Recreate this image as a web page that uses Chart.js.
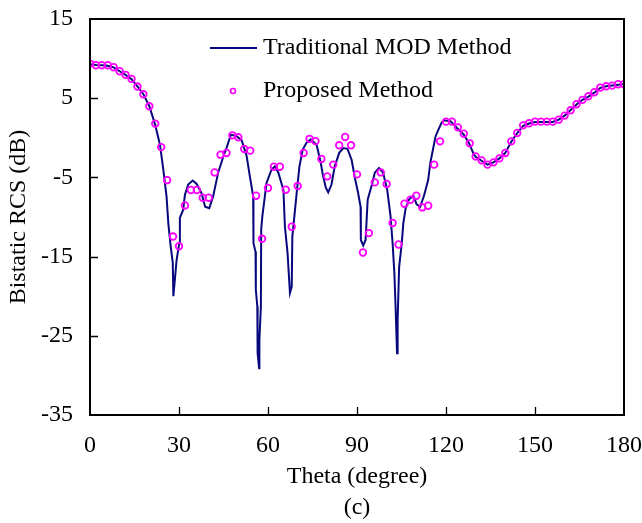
<!DOCTYPE html>
<html>
<head>
<meta charset="utf-8">
<title>Bistatic RCS</title>
<script src="https://cdn.jsdelivr.net/npm/chart.js@4.4.1/dist/chart.umd.min.js"></script>
<style>
  html, body { margin: 0; padding: 0; background: #fff; }
  #wrap { width: 642px; height: 523px; }
  canvas { display: block; }
</style>
</head>
<body>
<div id="wrap"><canvas id="rcsChart" width="642" height="523"></canvas></div>
<script>
// traditional MOD method (solid line)
const lineTheta = [0, 2, 4, 6, 8, 10, 12, 14, 16, 18, 20, 22, 23.6, 24.7, 25.8, 26.4, 27.2, 27.9, 28.1, 28.6,
  29.2, 30.1, 30.3, 31.4, 32.0, 33.1, 34.6, 35.9, 37.6, 38.8, 40.2, 41.5, 43.2, 45.0, 46.0, 47.5, 49.4, 51.1,
  52.8, 53.9, 55.0, 55.1, 55.8, 55.9, 56.4, 56.5, 57.0, 57.1, 57.6, 57.7, 58.1, 58.8, 59.5, 61.2, 62.3, 63.5,
  65.2, 65.7, 66.6, 67.4, 68.0, 68.2, 69.1, 69.9, 70.6, 71.7, 73.0, 74.4, 76.4, 77.7, 78.6, 79.5, 80.3, 81.4,
  82.5, 84.0, 85.4, 86.8, 88.2, 89.3, 90.4, 91.2, 91.3, 92.1, 92.9, 93.6, 94.9, 96.0, 97.4, 98.8, 100.2, 101.3,
  102.0, 102.6, 103.0, 103.5, 103.7, 104.2, 105.1, 105.6, 106.4, 107.5, 109.0, 110.1, 111.3, 112.5, 113.1,
  114.0, 114.7, 115.8, 116.5, 117.4, 118.5, 119.2, 121.5, 123.8, 126.0, 127.7, 129.4, 130, 132, 134, 136, 138,
  140, 142, 144, 146, 148, 150, 152, 154, 156, 158, 160, 162, 164, 166, 168, 170, 172, 174, 176, 178, 180];
const lineRcs = [9.3, 9.2, 9.15, 9.1, 8.9, 8.4, 7.95, 7.4, 6.5, 5.5, 4.0, 1.6, -0.9, -4.0, -7.4, -10.8, -13.7, -15.8, -20.0, -17.9,
  -15.4, -13.3, -10.1, -9.1, -7.2, -5.9, -5.4, -5.8, -7.0, -8.7, -8.9, -7.4, -4.4, -2.3, -1.3, 0.4, 0.2, -0.3,
  -2.3, -4.9, -7.4, -13.3, -14.4, -19.2, -21.3, -27.2, -29.1, -25.5, -21.3, -11.6, -9.9, -7.8, -5.7, -4.0, -3.6, -4.4,
  -6.6, -11.2, -14.6, -19.6, -18.8, -12.5, -9.1, -6.1, -3.6, -1.5, -0.6, -0.2, -0.9, -3.0, -4.9, -6.3, -6.9, -5.9,
  -3.6, -1.9, -1.3, -1.4, -2.8, -5.1, -7.0, -8.7, -12.9, -13.6, -12.9, -7.8, -6.1, -4.4, -3.8, -4.4, -6.6, -9.9,
  -13.3, -17.1, -21.3, -27.2, -23.0, -16.3, -13.3, -10.8, -8.9, -7.8, -7.3, -8.4, -8.7, -7.4, -6.6,
  -5.3, -3.2, -1.1, 0.2, 1.0, 1.9, 2.2, 2.1, 1.2, 0.4, -0.65, -2.1, -2.4, -2.9, -3.4, -3.1, -2.6,
  -1.9, -0.5, 0.6, 1.5, 1.8, 2.0, 2.0, 2.0, 2.0, 2.3, 2.8, 3.5, 4.2, 4.8, 5.2, 5.7, 6.3, 6.5, 6.6, 6.7, 6.75];

// proposed method (circles)
const pointTheta = [0, 2, 4, 6, 8, 10, 12, 14, 16, 18, 20, 22, 24, 26, 28, 30, 32, 34, 36, 38, 40, 42, 44, 46,
  48, 50, 52, 54, 56, 58, 60, 62, 64, 66, 68, 70, 72, 74, 76, 78, 80, 82, 84, 86, 88, 90, 92, 94, 96, 98, 100,
  102, 104, 106, 108, 110, 112, 114, 116, 118, 120, 122, 124, 126, 128, 130, 132, 134, 136, 138, 140, 142, 144,
  146, 148, 150, 152, 154, 156, 158, 160, 162, 164, 166, 168, 170, 172, 174, 176, 178, 180];
const pointRcs = [9.37, 9.16, 9.16, 9.16, 8.91, 8.4, 7.95, 7.44, 6.47, 5.49, 3.98, 1.79, -1.18, -5.35, -12.47, -13.7,
  -8.54, -6.59, -6.59, -7.57, -7.57, -4.37, -2.13, -1.91, 0.31, 0.06, -1.41, -1.62, -7.31, -12.75, -6.34, -3.65,
  -3.65, -6.55, -11.23, -6.09, -1.91, -0.13, -0.42, -2.67, -4.87, -3.39, -0.95, 0.11, -0.95, -4.62, -14.48, -12.03,
  -5.63, -4.37, -5.83, -10.76, -13.47, -8.32, -7.82, -7.31, -8.79, -8.58, -3.39, -0.45, 2.04, 2.04, 1.32, 0.52,
  -0.7, -2.35, -2.85, -3.39, -3.1, -2.6, -1.91, -0.45, 0.61, 1.57, 1.83, 2.04, 2.04, 2.04, 2.04, 2.29, 2.8, 3.47,
  4.24, 4.79, 5.24, 5.75, 6.34, 6.5, 6.59, 6.76, 6.76];

const seriesNames = ['Traditional MOD Method', 'Proposed Method'];
const xTitle = ['Theta (degree)', '(c)'];
const yTitle = 'Bistatic RCS (dB)';

const lineColor = '#08087e';
const markColor = '#ff00ff';
const serif = "'Liberation Serif', 'Times New Roman', serif";

// box round the plot and inward tick marks on bottom/left
const framePlugin = {
  id: 'frame',
  afterDraw(chart) {
    const { ctx, chartArea: a, scales } = chart;
    ctx.save();
    ctx.strokeStyle = '#000';
    ctx.lineWidth = 2;
    ctx.strokeRect(a.left, a.top, a.right - a.left, a.bottom - a.top);
    ctx.lineWidth = 1.3;
    ctx.beginPath();
    scales.x.ticks.forEach((t) => {
      if (t.value <= 0 || t.value >= 180) return;
      const px = Math.round(scales.x.getPixelForValue(t.value)) + 0.5;
      ctx.moveTo(px, a.bottom);
      ctx.lineTo(px, a.bottom - 8);
    });
    scales.y.ticks.forEach((t) => {
      if (t.value <= -35 || t.value >= 15) return;
      const py = Math.round(scales.y.getPixelForValue(t.value)) + 0.5;
      ctx.moveTo(a.left, py);
      ctx.lineTo(a.left + 8, py);
    });
    ctx.stroke();
    ctx.restore();
  }
};

// legend inside the plot, top middle
const legendPlugin = {
  id: 'insideLegend',
  afterDraw(chart) {
    const { ctx, chartArea: a } = chart;
    const x0 = a.left + 120, textX = a.left + 173;
    const y1 = a.top + 29, y2 = a.top + 72;
    ctx.save();
    ctx.strokeStyle = lineColor;
    ctx.lineWidth = 2;
    ctx.beginPath();
    ctx.moveTo(x0, y1);
    ctx.lineTo(x0 + 47, y1);
    ctx.stroke();
    ctx.strokeStyle = markColor;
    ctx.lineWidth = 1.6;
    ctx.beginPath();
    ctx.arc(x0 + 23, y2, 2.5, 0, Math.PI * 2);
    ctx.stroke();
    ctx.fillStyle = '#000';
    ctx.font = '24px ' + serif;
    ctx.textBaseline = 'middle';
    ctx.fillText(seriesNames[0], textX, y1);
    ctx.fillText(seriesNames[1], textX, y2);
    ctx.restore();
  }
};

new Chart(document.getElementById('rcsChart'), {
  type: 'scatter',
  data: {
    datasets: [
      {
        label: seriesNames[1],
        data: pointTheta.map((t, i) => ({ x: t, y: pointRcs[i] })),
        pointStyle: 'circle',
        pointRadius: 3.3,
        pointBorderWidth: 1.8,
        pointBorderColor: markColor,
        pointBackgroundColor: 'rgba(0,0,0,0)',
        showLine: false,
        order: 0
      },
      {
        label: seriesNames[0],
        data: lineTheta.map((t, i) => ({ x: t, y: lineRcs[i] })),
        showLine: true,
        borderColor: lineColor,
        borderWidth: 2,
        pointRadius: 0,
        tension: 0,
        order: 1
      }
    ]
  },
  options: {
    responsive: false,
    animation: false,
    layout: { padding: { top: 19, right: 18, left: 0, bottom: 0 } },
    plugins: { legend: { display: false }, tooltip: { enabled: false } },
    scales: {
      x: {
        type: 'linear',
        min: 0, max: 180,
        afterFit(s) { s.height = 108; s.paddingLeft = 0; s.paddingRight = 0; },
        grid: { display: false, drawTicks: false },
        border: { display: false },
        ticks: { stepSize: 30, padding: 16, color: '#000', font: { family: serif, size: 24 } },
        title: { display: true, text: xTitle, color: '#000', padding: { top: 0, bottom: 0 },
          font: { family: serif, size: 24, lineHeight: 1.29 } }
      },
      y: {
        type: 'linear',
        min: -35, max: 15,
        afterFit(s) { s.width = 90; s.paddingTop = 0; s.paddingBottom = 0; },
        grid: { display: false, drawTicks: false },
        border: { display: false },
        ticks: { stepSize: 10, padding: 17, color: '#000', font: { family: serif, size: 24 } },
        title: { display: true, text: yTitle, color: '#000', padding: { top: 4, bottom: 0 },
          font: { family: serif, size: 24, lineHeight: 1.2 } }
      }
    }
  },
  plugins: [framePlugin, legendPlugin]
});
</script>
</body>
</html>
